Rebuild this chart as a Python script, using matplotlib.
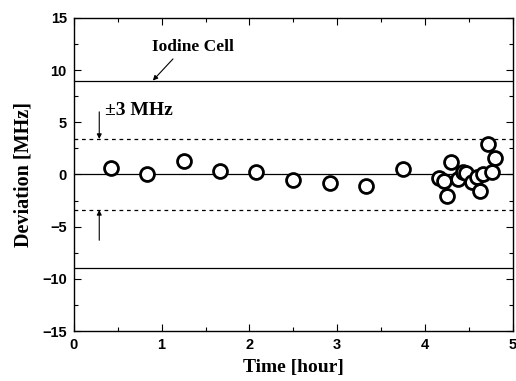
import numpy as np
import matplotlib.pyplot as plt

# time [hour] and deviation [MHz]
time_h = [0.42, 0.83, 1.25, 1.67, 2.08, 2.50, 2.92, 3.33, 3.75,
          4.16, 4.21, 4.25, 4.30, 4.38, 4.43, 4.47, 4.53, 4.59,
          4.62, 4.66, 4.72, 4.76, 4.80]
deviation = [0.6, 0.0, 1.3, 0.3, 0.2, -0.5, -0.8, -1.1, 0.5,
             -0.3, -0.6, -2.1, 1.2, -0.4, 0.2, 0.1, -0.7, -0.2,
             -1.6, 0.0, 2.9, 0.2, 1.6]

iodine_limit = 9.0
spec_limit = 3.4

serif = "Liberation Serif"
sans = "Liberation Sans"

fig = plt.figure(figsize=(5.16, 3.81), dpi=100)
ax = fig.add_axes([0.143, 0.131, 0.851, 0.822])

ax.axhline(0, color="black", lw=0.9)
ax.axhline(iodine_limit, color="black", lw=0.9)
ax.axhline(-iodine_limit, color="black", lw=0.9)
ax.axhline(spec_limit, color="black", lw=0.9, ls=(0, (3, 3)))
ax.axhline(-spec_limit, color="black", lw=0.9, ls=(0, (3, 3)))

ax.plot(time_h, deviation, "o", ms=10, mfc="white", mec="black", mew=2.0,
        zorder=3)

ax.annotate("Iodine Cell", xy=(0.9, iodine_limit), xytext=(0.89, 12.2),
            fontfamily=serif, fontweight="bold", fontsize=12.5,
            ha="left", va="center",
            arrowprops=dict(arrowstyle="-|>", color="black", lw=0.8,
                            mutation_scale=7, shrinkA=1, shrinkB=0,
                            relpos=(0.3, 0.0)))
ax.text(0.35, 6.1, "\u00b13 MHz", fontfamily=serif, fontweight="bold",
        fontsize=14, ha="left", va="center")
ax.annotate("", xy=(0.29, spec_limit), xytext=(0.29, 6.0),
            arrowprops=dict(arrowstyle="-|>", color="black", lw=0.8,
                            mutation_scale=7, shrinkA=0, shrinkB=0))
ax.annotate("", xy=(0.29, -spec_limit), xytext=(0.29, -6.3),
            arrowprops=dict(arrowstyle="-|>", color="black", lw=0.8,
                            mutation_scale=7, shrinkA=0, shrinkB=0))

ax.set_xlim(0, 5)
ax.set_ylim(-15, 15)
ax.set_xticks(np.arange(0, 6, 1))
ax.set_xticks(np.arange(0.5, 5, 1), minor=True)
ax.set_yticks(np.arange(-15, 16, 5))
ax.set_yticks(np.arange(-12.5, 15, 5), minor=True)
ax.tick_params(which="both", direction="in", top=True, right=True,
               width=0.8)
ax.tick_params(which="major", length=5, pad=5)
ax.tick_params(which="minor", length=3)
for lbl in ax.get_xticklabels() + ax.get_yticklabels():
    lbl.set_fontfamily(sans)
    lbl.set_fontweight("bold")
    lbl.set_fontsize(10.5)
for sp in ax.spines.values():
    sp.set_linewidth(1.0)

ax.set_xlabel("Time [hour]", fontfamily=serif, fontweight="bold",
              fontsize=14, labelpad=5)
ax.set_ylabel("Deviation [MHz]", fontfamily=serif, fontweight="bold",
              fontsize=14.5, labelpad=6)

fig.savefig("out.png", dpi=100)
